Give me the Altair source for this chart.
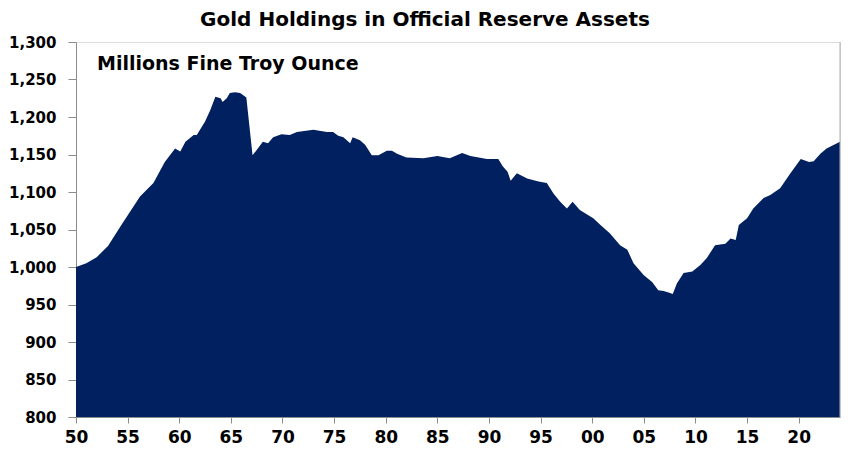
import altair as alt
import pandas as pd

title_text = "Gold Holdings in Official Reserve Assets"
subtitle_text = "Millions Fine Troy Ounce"

years = [1950.0, 1951.0, 1952.0, 1953.1, 1954.3, 1956.2, 1957.5, 1958.6, 1959.6, 1960.1,
         1960.6, 1961.4, 1961.7, 1962.5, 1963.0, 1963.5, 1964.0, 1964.2, 1964.6, 1964.9,
         1965.4, 1965.9, 1966.5, 1967.1, 1967.5, 1968.1, 1968.6, 1969.1, 1969.9, 1970.7,
         1971.4, 1973.0, 1974.3, 1974.9, 1975.4, 1975.9, 1976.55, 1976.8, 1977.5, 1978.0,
         1978.65, 1979.3, 1980.1, 1980.6, 1981.1, 1982.0, 1983.65, 1985.0, 1986.2, 1987.4,
         1988.2, 1989.8, 1990.9, 1991.35, 1991.8, 1992.1, 1992.7, 1993.7, 1994.8, 1995.6,
         1996.25, 1996.9, 1997.55, 1998.1, 1998.8, 2000.1, 2000.8, 2001.7, 2002.7, 2003.4,
         2004.0, 2005.0, 2005.8, 2006.4, 2006.9, 2007.4, 2007.8, 2008.2, 2008.85, 2009.7,
         2010.5, 2011.1, 2011.9, 2012.9, 2013.4, 2013.9, 2014.2, 2015.0, 2015.6, 2016.6,
         2017.25, 2018.2, 2019.2, 2020.2, 2021.0, 2021.45, 2022.1, 2022.7, 2024.0]

holdings = [1000, 1005, 1013, 1028, 1054, 1094, 1112, 1140, 1158, 1154,
            1167, 1176, 1176, 1194, 1209, 1227, 1225, 1220, 1225, 1232,
            1233, 1232, 1226, 1149, 1156, 1167, 1165, 1173, 1177, 1176,
            1180, 1183, 1180, 1180, 1175, 1173, 1165, 1173, 1169, 1163,
            1149, 1149, 1155, 1155, 1151, 1146, 1145, 1148, 1145, 1152,
            1148, 1144, 1144, 1134, 1127, 1115, 1125, 1118, 1114, 1112,
            1098, 1087, 1078, 1087, 1076, 1065, 1056, 1045, 1029, 1023,
            1005, 989, 980, 969, 968, 966, 964, 978, 992, 994,
            1003, 1012, 1029, 1031, 1038, 1036, 1056, 1065, 1078, 1092,
            1096, 1105, 1125, 1144, 1140, 1141, 1151, 1158, 1167]

x_ticks = list(range(1950, 2021, 5))
y_ticks = list(range(800, 1301, 50))

df = pd.DataFrame({"year": years, "value": holdings})

FONT = "DejaVu Sans"
NAVY = "#002060"
GRAY = "#8c8c8c"

area = alt.Chart(df).mark_area(color=NAVY, opacity=1, clip=True).encode(
    x=alt.X("year:Q",
            scale=alt.Scale(domain=[1950, 2024], nice=False, zero=False),
            axis=alt.Axis(values=x_ticks, title=None,
                          labelExpr="substring(toString(datum.value), 2)",
                          labelFont=FONT, labelFontSize=17, labelFontWeight="bold",
                          labelColor="#000000", labelPadding=6, tickSize=6,
                          domainColor=GRAY, tickColor=GRAY, grid=False,
                          labelFlush=False, labelOverlap=False)),
    y=alt.Y("value:Q",
            scale=alt.Scale(domain=[800, 1300], nice=False, zero=False),
            axis=alt.Axis(values=y_ticks, title=None, format=",d",
                          labelFont=FONT, labelFontSize=15, labelFontWeight="bold",
                          labelColor="#000000", labelPadding=12, tickSize=8,
                          domainColor=GRAY, tickColor=GRAY, grid=False,
                          labelOverlap=False)),
    y2=alt.datum(800),
)

right_border = alt.Chart(pd.DataFrame({"k": [0]})).mark_rule(color="#b0b0b0", strokeWidth=1).encode(
    x=alt.value(764), y=alt.value(0), y2=alt.value(375)
)

title = alt.Chart(pd.DataFrame({"t": [title_text]})).mark_text(
    font=FONT, fontSize=20, fontWeight="bold", color="#000000",
    align="center", baseline="alphabetic"
).encode(text="t:N", x=alt.value(349), y=alt.value(-16))

subtitle = alt.Chart(pd.DataFrame({"t": [subtitle_text]})).mark_text(
    font=FONT, fontSize=19, fontWeight="bold", color="#000000",
    align="left", baseline="alphabetic"
).encode(text="t:N", x=alt.value(21), y=alt.value(28))

chart = alt.layer(area, right_border, title, subtitle).properties(
    width=764, height=375,
    padding={"left": 68, "top": 34, "right": 2, "bottom": 28},
    autosize=alt.AutoSizeParams(type="none"),
).configure_view(stroke=None).configure(background="#ffffff")

chart.save("out.html", embed_options={"renderer": "svg", "actions": False})
